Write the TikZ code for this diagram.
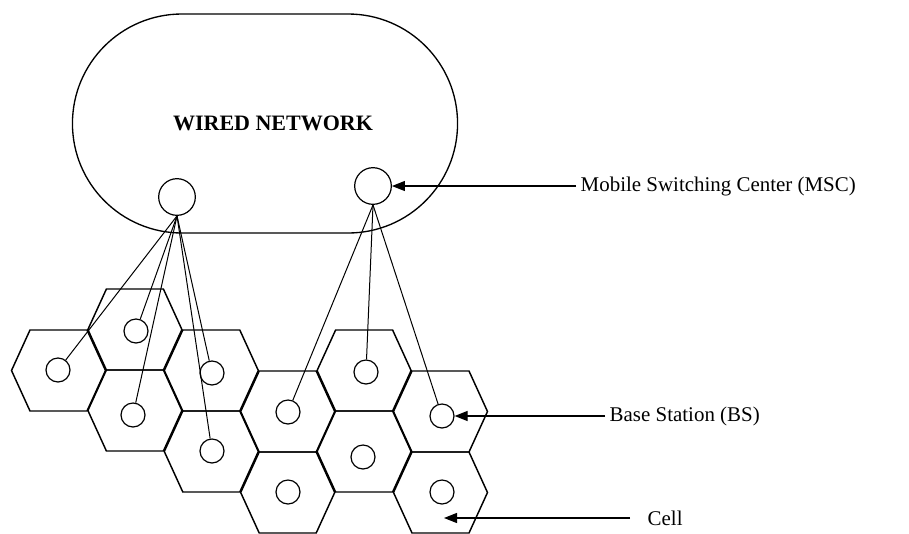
\documentclass[tikz,border=0pt]{standalone}
\usepackage{fontspec}
\setmainfont{Liberation Serif}
\usetikzlibrary{arrows.meta,shapes}

\begin{document}
\begin{tikzpicture}[x=0.75pt,y=-0.75pt]
	\tikzstyle{wired}=[draw,line width=1pt,rounded rectangle,minimum width=295.5pt,minimum height=164.25pt,font=\fontsize{16.5}{19}\selectfont\bfseries]
	\tikzstyle{msc}=[draw,circle,line width=0.9pt,minimum size=27.5pt,inner sep=0pt]
	\tikzstyle{bs}=[draw,circle,line width=0.9pt,minimum size=18pt,inner sep=0pt]
	\tikzstyle{hexcell}=[line width=1.1pt,line join=miter]
	\tikzstyle{link}=[line width=0.75pt]
	\tikzstyle{pointer}=[line width=0.9pt,arrows={-Triangle[length=9.75pt,width=7.5pt]}]
	\tikzstyle{caption}=[anchor=west,font=\fontsize{15.7}{18}\selectfont]
	
	\useasboundingbox (0,0) rectangle (909,533);
	
	\node[wired] (net) at (265,123.5) {\hspace*{12pt}WIRED NETWORK};
	\node[msc] (mscA) at (177,197) {};
	\node[msc] (mscB) at (373,186) {};
	
	\foreach \i/\y in {0/370.5, 1/329.5, 1/410.5, 2/370.5, 2/451.5, 3/411.5, 3/492.5, 4/370.5, 4/451.5, 5/411.5, 5/492.5}
		\draw[hexcell] (58.5+76.4*\i,\y) ++(-47,0) -- ++(18.5,-40.5) -- ++(57,0) -- ++(18.5,40.5) -- ++(-18.5,40.5) -- ++(-57,0) -- cycle;
	
	\node[bs] (bs1) at (58,370) {};
	\node[bs] (bs2) at (136,331) {};
	\node[bs] (bs3) at (133,415) {};
	\node[bs] (bs4) at (212,373) {};
	\node[bs] (bs5) at (212,451) {};
	\node[bs] (bs6) at (288,412) {};
	\node[bs] (bs7) at (288,492) {};
	\node[bs] (bs8) at (366,372) {};
	\node[bs] (bs9) at (363,457) {};
	\node[bs] (bs10) at (442,416) {};
	\node[bs] (bs11) at (442,492) {};
	
	\foreach \b in {bs1,bs2,bs3,bs4,bs5}
		\draw[link] (mscA.south) -- (\b);
	\foreach \b in {bs6,bs8,bs10}
		\draw[link] (mscB.south) -- (\b);
	
	\node[caption] (msclabel) at (576,186) {Mobile Switching Center (MSC)};
	\node[caption] (bslabel) at (605,416) {Base Station (BS)};
	\node[caption] (celllabel) at (643,518) {Cell};
	\coordinate (cellpt) at (444,518);
	
	\draw[pointer] (msclabel.west) -- (mscB.east);
	\draw[pointer] (bslabel.west) -- (bs10.east);
	\draw[pointer,shorten <=9.75pt] (celllabel.west) -- (cellpt);
	
\end{tikzpicture}
\end{document}
